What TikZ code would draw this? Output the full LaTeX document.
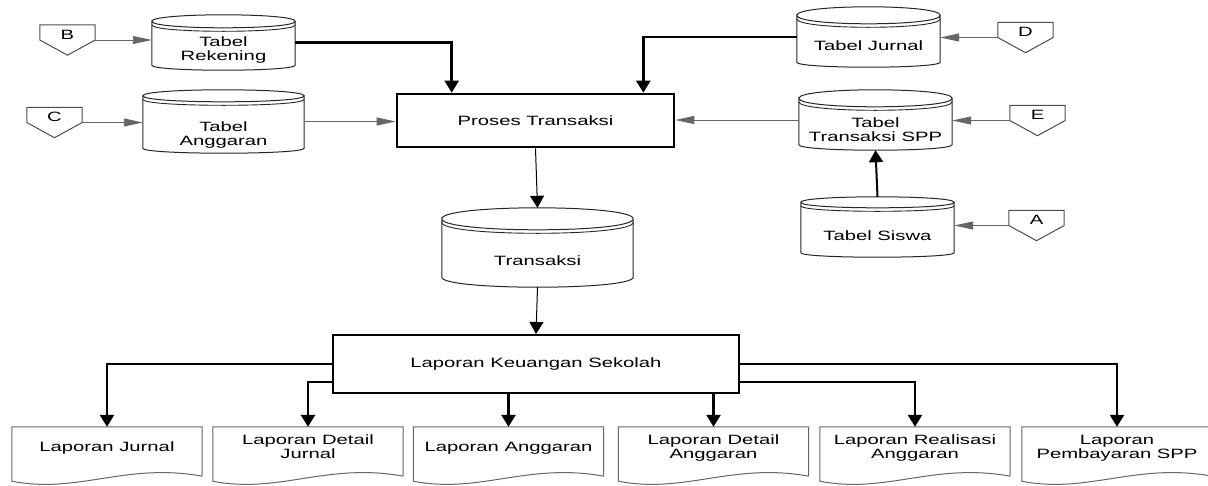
\documentclass[tikz,border=0pt]{standalone}
\usepackage{fontspec}
\setmainfont[FakeStretch=1.5]{Liberation Sans}
\usetikzlibrary{arrows.meta}
\tikzstyle{tbl} = [rectangle, inner sep=0pt, text centered]
\tikzstyle{dok} = [rectangle, inner sep=0pt, minimum width=190pt, minimum height=54pt]
\tikzstyle{konek} = [rectangle, inner sep=0pt, minimum width=55pt, minimum height=30pt]
\tikzstyle{kotak} = [rectangle, draw, inner sep=0pt]
\tikzstyle{tipis} = [draw=black!60, line width=0.9pt, -{Triangle[length=19pt,width=8pt]}]
\tikzstyle{tebal} = [line width=2.6pt, -{Triangle[length=12pt,width=14pt]}]
\tikzstyle{turun} = [line width=1pt, -{Triangle[length=12pt,width=14pt]}]
% geser teks: tambah tinggi (#1) / kedalaman (#2)
\newcommand{\geser}[3]{\raisebox{0pt}[\dimexpr\height+#1pt\relax][\dimexpr\depth+#2pt\relax]{\begin{tabular}{@{}c@{}}#3\end{tabular}}}

\begin{document}
\begin{tikzpicture}[x=1pt,y=-1pt,font=\fontsize{13.5}{14}\selectfont]
  \useasboundingbox (0,0) rectangle (1208,485);

  % tabel
  \node[tbl, minimum width=143pt, minimum height=55pt] (rek) at (223.5,42.5) {\geser{17}{0}{Tabel\\Rekening}};
  \node[tbl, minimum width=161pt, minimum height=63pt] (ang) at (223.5,121.5) {\geser{28}{0}{Tabel\\Anggaran}};
  \node[tbl, minimum width=143pt, minimum height=60pt] (jur) at (868.5,37) {\geser{22}{0}{Tabel Jurnal}};
  \node[tbl, minimum width=153pt, minimum height=60pt] (spp) at (875.5,120) {\geser{23}{0}{Tabel\\Transaksi SPP}};
  \node[tbl, minimum width=153pt, minimum height=60pt] (sis) at (877.5,227) {\geser{22}{0}{Tabel Siswa}};
  \node[tbl, minimum width=191pt, minimum height=79pt] (trx) at (537.5,247.5) {\geser{31}{0}{Transaksi}};

  % konektor
  \node[konek] (B) at (67.5,40) {\geser{0}{7}{B}};
  \node[konek] (C) at (54.5,122.5) {\geser{0}{7}{C}};
  \node[konek] (D) at (1025.5,37.5) {\geser{0}{7}{D}};
  \node[konek] (E) at (1037.5,120.5) {\geser{0}{7}{E}};
  \node[konek] (A) at (1036.5,225.5) {\geser{0}{7}{A}};

  % proses
  \node[kotak, line width=2.6pt, minimum width=277pt, minimum height=53pt] (proc) at (535.5,120.5) {Proses Transaksi};
  \node[kotak, line width=2pt, minimum width=406pt, minimum height=58pt] (lks) at (536,364) {Laporan Keuangan Sekolah};

  % laporan
  \node[dok] (d1) at (107,454) {\geser{0}{10}{Laporan Jurnal}};
  \node[dok] (d2) at (308,454) {\geser{0}{10}{Laporan Detail\\Jurnal}};
  \node[dok] (d3) at (508.5,454) {\geser{0}{10}{Laporan Anggaran}};
  \node[dok] (d4) at (713.5,454) {\geser{0}{10}{Laporan Detail\\Anggaran}};
  \node[dok] (d5) at (915,454) {\geser{0}{10}{Laporan Realisasi\\Anggaran}};
  \node[dok] (d6) at (1117,454) {\geser{0}{10}{Laporan\\Pembayaran SPP}};

  \foreach \n/\r/\b in {rek/6.5/5, ang/6/5, jur/8.5/5, spp/8.5/5.5, sis/5.5/4.5, trx/11/10} {
    \draw[line width=1pt, black!85]
      ([yshift=-\r]\n.north west) .. controls ([yshift=\r/3]\n.north west) and ([yshift=\r/3]\n.north east) .. ([yshift=-\r]\n.north east)
      .. controls ([yshift=-7*\r/3]\n.north east) and ([yshift=-7*\r/3]\n.north west) .. ([yshift=-\r]\n.north west)
      -- ([yshift=\b]\n.south west) .. controls ([yshift=-\b/3]\n.south west) and ([yshift=-\b/3]\n.south east) .. ([yshift=\b]\n.south east)
      -- ([yshift=-\r]\n.north east);
    \draw[line width=0.9pt, black!85]
      ([yshift=-\r-3.5]\n.north west) .. controls ([yshift=-7*\r/3-3.5]\n.north west) and ([yshift=-7*\r/3-3.5]\n.north east) .. ([yshift=-\r-3.5]\n.north east);
  }
  \foreach \n in {A,B,C,D,E}
    \draw[line width=1pt, black!70] (\n.north west) -- (\n.north east) -- (\n.east) -- (\n.south) -- (\n.west) -- cycle;
  \foreach \n in {d1,d2,d3,d4,d5,d6}
    \draw[line width=1pt, black!60] ([yshift=5pt]\n.south east) -- (\n.north east) -- (\n.north west) -- (\n.south west)
      .. controls +(66,13) and +(-76,-14) .. ([yshift=5pt]\n.south east);

  \draw[tipis] (B.east) -- (B.east -| rek.west);
  \draw[tipis] (C.east) -- (C.east -| ang.west);
  \draw[tipis] (D.west) -- (D.west -| jur.east);
  \draw[tipis] (E.west) -- (E.west -| spp.east);
  \draw[tipis] (A.west) -- (A.west -| sis.east);
  \draw[tipis] (ang.east) -- (ang.east -| proc.west);
  \draw[tipis] (spp.west) -- (spp.west -| proc.east);
  \draw[tebal] (rek.east) -| ([xshift=56pt]proc.north west);
  \draw[tebal] (jur.west) -| ([xshift=-32pt]proc.north east);
  \draw[tebal, line width=2pt] (sis.north) -- (spp.south);
  \draw[turun] (proc.south) -- (trx.north);
  \draw[turun] (trx.south) -- (lks.north);

  \draw[tebal] (lks.west) -| (d1.north);
  \draw[tebal] ([yshift=-18pt]lks.west) -| (d2.north);
  \draw[tebal] (lks.south -| d3.north) -- (d3.north);
  \draw[tebal] (lks.south -| d4.north) -- (d4.north);
  \draw[tebal] ([yshift=-18pt]lks.east) -| (d5.north);
  \draw[tebal] (lks.east) -| (d6.north);
\end{tikzpicture}
\end{document}
